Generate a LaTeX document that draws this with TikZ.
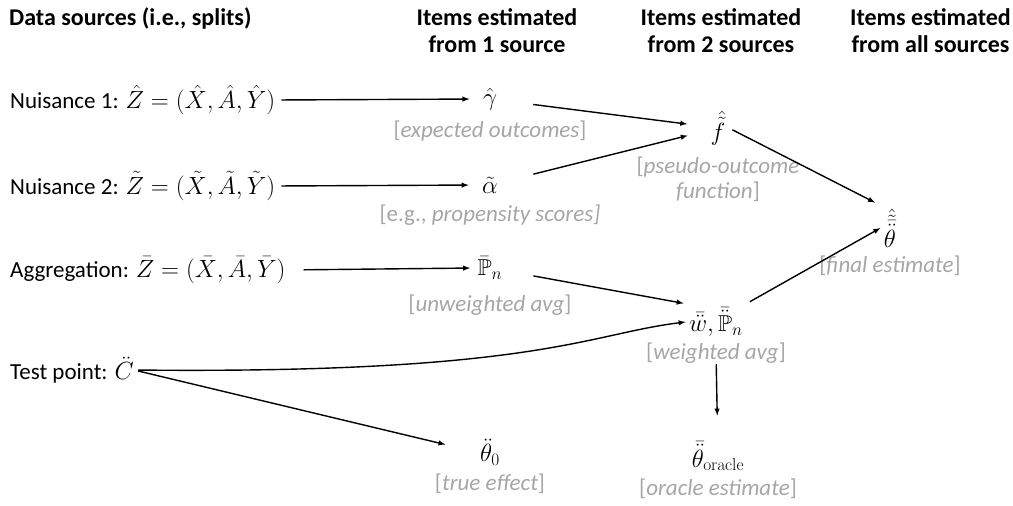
\documentclass[tikz,border=0pt]{standalone}
\usepackage{amsmath,amssymb}
\usepackage[no-math]{fontspec}
\setmainfont{Carlito}
\usetikzlibrary{positioning}
\definecolor{notegray}{RGB}{166,166,166}

\begin{document}
\begin{tikzpicture}[x=1pt, y=-1pt, >=latex,
        every node/.style={font=\fontsize{23}{25}\selectfont},
        head/.style={font=\fontsize{24}{27}\selectfont\bfseries, align=center, inner sep=0pt},
        src/.style={anchor=west, inner sep=0pt},
        note/.style={text=notegray, align=center, inner sep=1pt},
        arr/.style={->, line width=1.4pt}]
    \useasboundingbox (0,0) rectangle (1013,506);

    % column headers
    \node[head, anchor=west] (hsrc) at (9,18) {Data sources (i.e., splits)};
    \node[head] (hone) at (497,31) {Items estimated\\from 1 source};
    \node[head] (htwo) at (721,31) {Items estimated\\from 2 sources};
    \node[head, anchor=east] (hall) at (1011,31) {Items estimated\\from all sources};

    % data sources
    \node[src] (nuis1) at (10,100) {Nuisance 1: $\hat{Z}=(\hat{X},\hat{A},\hat{Y})$};
    \node[src] (nuis2) at (10,186) {Nuisance 2: $\tilde{Z}=(\tilde{X},\tilde{A},\tilde{Y})$};
    \node[src] (aggr) at (10,270) {Aggregation: $\bar{Z}=(\bar{X},\bar{A},\bar{Y})$};
    \node[src] (test) at (10,370) {Test point: $\ddot{C}$};

    % items from one source
    \node (gam) at (490,99) {$\hat{\gamma}$};
    \node[note, below=6pt of gam] (gamnote) {[\textit{expected outcomes}]};
    \node (alp) at (490,185) {$\tilde{\alpha}$};
    \node[note, below=7pt of alp] (alpnote) {[e.g., \textit{propensity scores]}};
    \node (pbar) at (490,268) {$\bar{\mathbb{P}}_n$};
    \node[note, below=11pt of pbar] (pbarnote) {[\textit{unweighted avg}]};
    \node (th0) at (490,452) {$\ddot{\theta}_0$};
    \node[note, below=4pt of th0] (th0note) {[\textit{true effect}]};

    % items from two sources
    \node (fhat) at (718,128) {$\hat{\tilde{f}}$};
    \node[note, below=7pt of fhat] (fnote) {[\textit{pseudo-outcome}\\\textit{function}]};
    \node (wbar) at (716,322) {$\bar{\ddot{w}},\bar{\ddot{\mathbb{P}}}_n$};
    \node[note, below=1pt of wbar] (wnote) {[\textit{weighted avg}]};
    \node (thor) at (718,456) {$\bar{\ddot{\theta}}_{\mathrm{oracle}}$};
    \node[note, below=3pt of thor] (thornote) {[\textit{oracle estimate}]};

    % item from all sources
    \node (thfin) at (890,228) {$\hat{\tilde{\bar{\ddot{\theta}}}}$};
    \node[note, below=4pt of thfin] (thfinnote) {[\textit{final estimate}]};

    % connectors
    \draw[arr, shorten <=6pt, shorten >=10pt] (nuis1.east) -- (gam.west);
    \draw[arr, shorten <=6pt, shorten >=10pt] (nuis2.east) -- (alp.west);
    \draw[arr, shorten <=18pt, shorten >=4pt] (aggr.east) -- (pbar.west);
    \draw[arr, shorten <=33pt, shorten >=20pt] (gam) -- (fhat);
    \draw[arr, shorten <=33pt, shorten >=20pt] (alp) -- (fhat);
    \draw[arr, shorten <=4pt, shorten >=6pt] (fhat.east) -- (thfin.north west);
    \draw[arr, shorten <=28pt, shorten >=2pt] (pbar) -- (wbar.north west);
    \draw[arr, shorten <=4pt] (wbar.north east) -- (thfin.west);
    \draw[arr, shorten <=4pt] (test.east) .. controls +(402,4) and +(-98,12) .. (wbar.west);
    \draw[arr, shorten <=4pt, shorten >=32pt] (test.east) -- (th0.west);
    \draw[arr, shorten >=22pt] (wnote) -- (thor);
\end{tikzpicture}
\end{document}
